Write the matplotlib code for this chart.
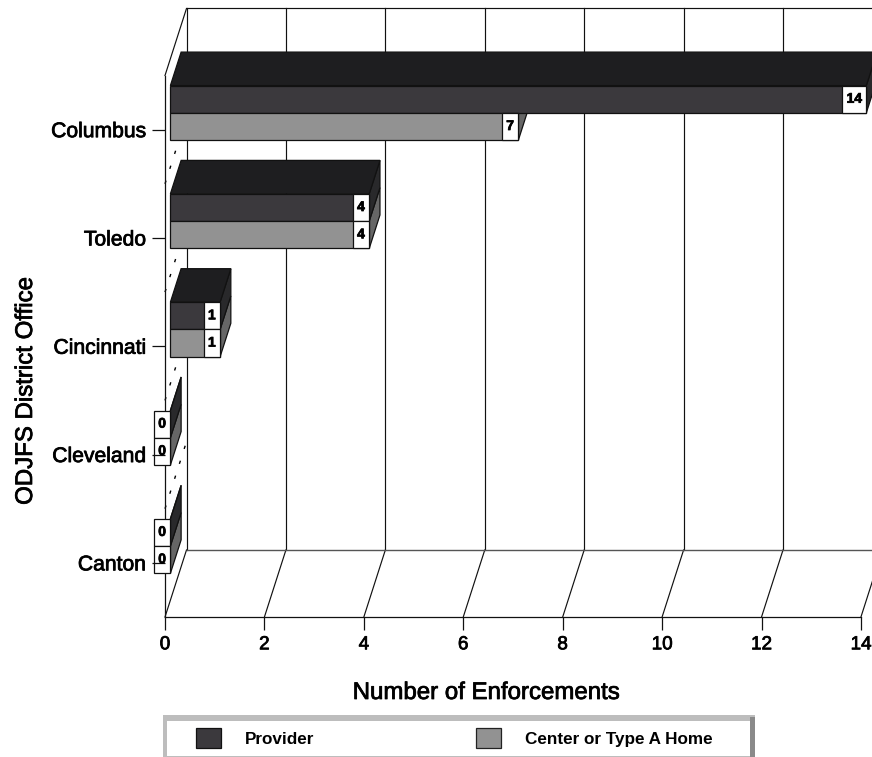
import numpy as np
import matplotlib
matplotlib.use('Agg')
import matplotlib.pyplot as plt
import matplotlib.patheffects as pe
from matplotlib.patches import Patch, Polygon, Rectangle

offices = ['Columbus', 'Toledo', 'Cincinnati', 'Cleveland', 'Canton']
provider = [14, 4, 1, 0, 0]
center = [7, 4, 1, 0, 0]
x_ticks = [0, 2, 4, 6, 8, 10, 12, 14]

W, H = 872, 757
X0 = 165.0
PX_X = 49.71    # pixels per enforcement
PX_Y = 108.25   # pixels per office row
DEPTH_X = 21.5 / PX_X
DEPTH_Y = 67 / PX_Y
BAR_H = 0.252

TOP_C = '#1e1e20'
PROV_C = '#3b393d'
PROV_SIDE = '#29292b'
CENT_C = '#929292'
CENT_SIDE = '#666666'
LINE_C = '#111111'

plt.rcParams['font.family'] = ['Liberation Sans', 'DejaVu Sans']
heavy = [pe.withStroke(linewidth=0.55, foreground='black')]

fig = plt.figure(figsize=(W / 100, H / 100), dpi=100)
ax = fig.add_axes([X0 / W, (H - 617) / H, (W - X0) / W, (617 - 75.5) / H])
ax.set_xlim(0, (W - X0) / PX_X)
ax.set_ylim(-0.5, 4.5)
ax.set_axisbelow(False)


def proj(v, y, d):
    # front-plane value/row coordinates pushed back by depth d (0 to 1)
    return (v + d * DEPTH_X, y + d * DEPTH_Y)


def face(points, color, edge='#111111'):
    ax.add_patch(Polygon(points, closed=True, facecolor=color, edgecolor=edge,
                         linewidth=0.9, zorder=2, clip_on=False))


def wall_line(a, b, color=LINE_C, lw=0.85):
    ax.plot(*zip(a, b), color=color, lw=lw, zorder=1, clip_on=False)


# walls and floor
xmax = ax.get_xlim()[1]
for t in x_ticks:
    wall_line(proj(t, -0.5, 1), proj(t, 4.5, 1))
    wall_line(proj(t, -0.5, 0), proj(t, -0.5, 1))
wall_line(proj(0, 4.5, 1), proj(xmax, 4.5, 1))
wall_line(proj(0, -0.5, 1), proj(xmax, -0.5, 1), color='#555555', lw=1.0)
wall_line(proj(0, 4.5, 0), proj(0, 4.5, 1))

# sparse row separators on the side wall
for k in range(4):
    ax.plot(*zip(proj(0, k + 0.5, 0), proj(0, k + 0.5, 1)), color='black', lw=1,
            linestyle=(0, (2.4, 8.9)), zorder=1, clip_on=False)

ypos = np.arange(len(offices))[::-1]
for i, y in enumerate(ypos):
    top = y + BAR_H
    bot = y - BAR_H
    d0, d1 = 0.25, 0.75
    vp, vc = provider[i], center[i]

    # provider sits on the upper half, center on the lower half
    face([proj(vc, bot, d0), proj(vc, y, d0), proj(vc, y, d1), proj(vc, bot, d1)], CENT_SIDE)
    face([proj(vp, y, d0), proj(vp, top, d0), proj(vp, top, d1), proj(vp, y, d1)], PROV_SIDE)
    face([proj(0, top, d0), proj(vp, top, d0), proj(vp, top, d1), proj(0, top, d1)], TOP_C)
    face([proj(0, y, d0), proj(vp, y, d0), proj(vp, top, d0), proj(0, top, d0)], PROV_C)
    face([proj(0, bot, d0), proj(vc, bot, d0), proj(vc, y, d0), proj(0, y, d0)], CENT_C)

    for v, lo, hi in [(vp, y, top), (vc, bot, y)]:
        right = proj(v, lo, d0)
        # value tag hangs off the bar end, wider for two digits
        box_w = (24 if v >= 10 else 16.5) / PX_X
        ax.add_patch(Rectangle((right[0] - box_w, right[1]), box_w, hi - lo, facecolor='white',
                               edgecolor='#111111', linewidth=0.9, zorder=2.2, clip_on=False))
        ax.text(right[0] - box_w / 2, right[1] + (hi - lo) / 2 + 0.005, str(v), ha='center', va='center',
                fontsize=10, fontweight='bold', color='black', zorder=3, path_effects=heavy)

ax.spines['top'].set_visible(False)
ax.spines['right'].set_visible(False)
ax.spines['left'].set_zorder(1)
ax.spines['left'].set_linewidth(0.9)
ax.spines['left'].set_color(LINE_C)
ax.spines['bottom'].set_linewidth(0.9)
ax.spines['bottom'].set_color(LINE_C)
ax.spines['bottom'].set_bounds(0, 14)
ax.patch.set_visible(False)

ax.set_xticks(x_ticks)
ax.set_yticks(ypos)
ax.set_yticklabels(offices)
ax.tick_params(axis='both', length=9.4, width=0.9, color=LINE_C)
ax.tick_params(axis='x', pad=4.5, labelsize=13.6)
ax.tick_params(axis='y', pad=4.2, labelsize=15.2)
for lab in ax.get_xticklabels() + ax.get_yticklabels():
    lab.set_path_effects(heavy)

fig.text(486 / W, 1 - 693 / H, 'Number of Enforcements', ha='center', va='center', fontsize=17.3,
         path_effects=heavy)
fig.text(26 / W, 1 - 391 / H, 'ODJFS District Office', ha='center', va='center', rotation=90, fontsize=17.3,
         path_effects=heavy)

# bevelled legend frame
def px_rect(x0, y0, x1, y1, color):
    fig.add_artist(Rectangle((x0 / W, 1 - y1 / H), (x1 - x0) / W, (y1 - y0) / H, facecolor=color,
                             edgecolor='none', transform=fig.transFigure, zorder=1))


px_rect(163, 715, 755, 757, '#bdbdbd')
px_rect(750, 717, 755, 757, '#8a8a8a')
px_rect(167, 721, 750, 756, 'white')

handles = [Patch(facecolor=PROV_C, edgecolor='#111111', linewidth=0.9, label='Provider'),
           Patch(facecolor=CENT_C, edgecolor='#222222', linewidth=0.9, label='Center or Type A Home')]
leg = fig.legend(handles=handles, ncol=2, loc='center left', bbox_to_anchor=(196 / W, 1 - 738 / H),
                 frameon=False, fontsize=12.3, borderpad=0, borderaxespad=0, handlelength=1.46,
                 handleheight=1.46, handletextpad=1.4, columnspacing=9.45)
for t in leg.get_texts():
    t.set_fontweight('bold')
leg.set_zorder(3)

fig.savefig('out.png', dpi=100)
